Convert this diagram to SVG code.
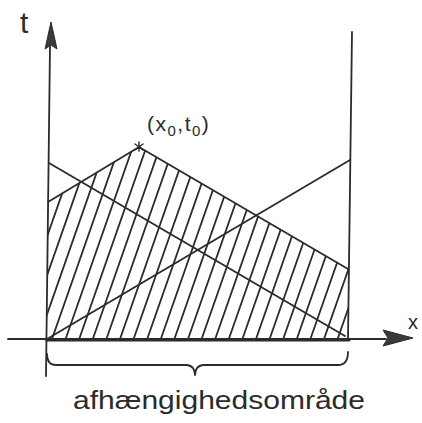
<svg xmlns="http://www.w3.org/2000/svg" width="422" height="423" viewBox="0 0 422 423">
<style>
.ln{fill:none;stroke:#2b2b2b;stroke-width:1.8;stroke-linecap:round;stroke-linejoin:round}
.hatch{fill:none;stroke:#2b2b2b;stroke-width:1.8;stroke-linecap:round}
.ah{fill:#3a3a3a;stroke:#2b2b2b;stroke-width:1}
.lbl{font-family:"Liberation Sans","DejaVu Sans",sans-serif;fill:#2b2b2b}
</style>
<defs>
<clipPath id="region">
<polygon points="47,339 48,202 139,147 348,269 348,339"/>
</clipPath>
</defs>
<rect width="422" height="423" fill="#ffffff"/>
<g id="hatching" clip-path="url(#region)">
<path class="hatch" d="M-2.4,339 l70,-200 M11.2,339 l70,-200 M24.8,339 l70,-200 M38.4,339 l70,-200 M52,339 l70,-200 M65.6,339 l70,-200 M79.2,339 l70,-200 M92.8,339 l70,-200 M106.4,339 l70,-200 M120,339 l70,-200 M133.6,339 l70,-200 M147.2,339 l70,-200 M160.8,339 l70,-200 M174.4,339 l70,-200 M188,339 l70,-200 M201.6,339 l70,-200 M215.2,339 l70,-200 M228.8,339 l70,-200 M242.4,339 l70,-200 M256,339 l70,-200 M269.6,339 l70,-200 M283.2,339 l70,-200 M296.8,339 l70,-200 M310.4,339 l70,-200 M324,339 l70,-200 M337.6,339 l70,-200"/>
</g>
<g id="axes">
<path class="ln" d="M46,376 L50,46"/>
<polygon class="ah" points="51,22 57,49 51,45 45,49"/>
<path class="ln" d="M8,339 L386,339"/>
<polygon class="ah" points="413,338 383,330 388,338 383,346"/>
<path class="ln" d="M47,340 L349,340" style="stroke-width:3.2"/>
<path class="ln" d="M352,32 L348,340"/>
</g>
<g id="connectors">
<path class="ln" d="M49,163 L345,336"/>
<path class="ln" d="M47,339 L350,160"/>
<path class="ln" d="M48,202 L139,147 L348,269"/>
</g>
<g id="point">
<path class="ln" d="M135,144 L143,150 M143,144 L135,150 M139,142 L139,151" style="stroke-width:1.4"/>
</g>
<g id="brace">
<path class="ln" d="M47,354 Q47,365 56,365 L187,365 Q195,366 195,375 Q195,366 203,365 L338,365 Q348,365 348,352"/>
</g>
<g id="labels">
<text class="lbl" x="20" y="33" font-size="30">t</text>
<text class="lbl" x="408" y="329" font-size="20">x</text>
<text class="lbl" font-size="21" y="131" letter-spacing="1.5"><tspan x="147">(x</tspan><tspan font-size="15" dy="5">0</tspan><tspan font-size="21" dy="-5">,t</tspan><tspan font-size="15" dy="5">0</tspan><tspan font-size="21" dy="-5">)</tspan></text>
<text class="lbl" x="73" y="409" font-size="25" textLength="292" lengthAdjust="spacingAndGlyphs">afhængighedsområde</text>
</g>
</svg>
